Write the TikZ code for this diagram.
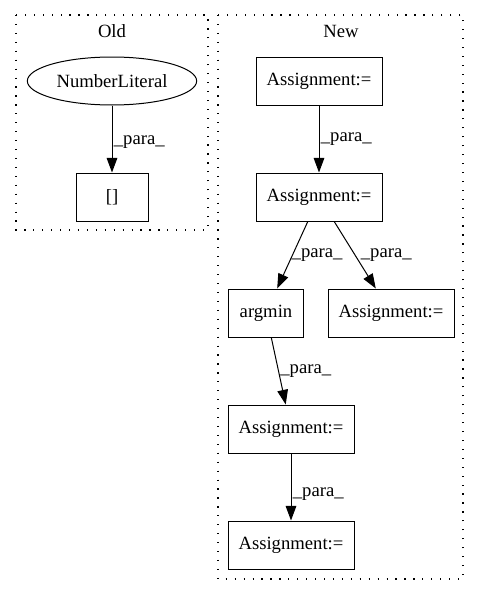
\documentclass[tikz,border=0pt]{standalone}
\usepackage{fontspec}
\setmainfont{Liberation Serif}
\usetikzlibrary{arrows.meta,shapes.geometric}
\definecolor{EdgeClr}{rgb}{0,0,0}

\begin{document}
\begin{tikzpicture}[x=.75pt,y=-.75pt,
  font=\fontsize{14}{16}\selectfont,
  box/.style={draw,line width=.75pt,minimum height=36pt,inner sep=2pt},
  oval/.style={draw,ellipse,line width=.75pt,minimum width=127pt,minimum height=36pt,inner sep=1pt},
  para/.style={line width=.75pt,color=EdgeClr,-{Triangle[length=11pt,width=8pt]}},
  lbl/.style={right,inner sep=1pt},
  cluster/.style={line width=.9pt,dash pattern=on .9pt off 5.8pt}]

\useasboundingbox (0,0) rectangle (480,596);

\draw[cluster] (16,15) rectangle (208,230);
\draw[cluster] (218,15) rectangle (463,579);
\node (old) at (112,31) {Old};
\node (new) at (341,31) {New};

\node[oval] (numlit) at (112,81) {NumberLiteral};
\node[box,minimum width=54pt] (idx) at (112,197) {[]};

\node[box,minimum width=94.5pt] (asgA) at (319,81) {Assignment:=};
\node[box,minimum width=94.5pt] (asgB) at (319,197) {Assignment:=};
\node[box,minimum width=56pt] (argmin) at (266,313) {argmin};
\node[box,minimum width=94.5pt] (asgC) at (391,313) {Assignment:=};
\node[box,minimum width=94.5pt] (asgD) at (291,429) {Assignment:=};
\node[box,minimum width=94.5pt] (asgE) at (291,545) {Assignment:=};

\draw[para] (numlit) -- node[lbl,pos=.55] {\_para\_} (idx);
\draw[para] (asgA) -- node[lbl] {\_para\_} (asgB);
\draw[para] (asgB) -- node[lbl,xshift=-2pt] {\_para\_} (argmin);
\draw[para] (asgB) -- node[lbl,xshift=3pt] {\_para\_} (asgC);
\draw[para] (argmin) -- node[lbl] {\_para\_} (asgD);
\draw[para] (asgD) -- node[lbl,pos=.6] {\_para\_} (asgE);

\end{tikzpicture}
\end{document}
